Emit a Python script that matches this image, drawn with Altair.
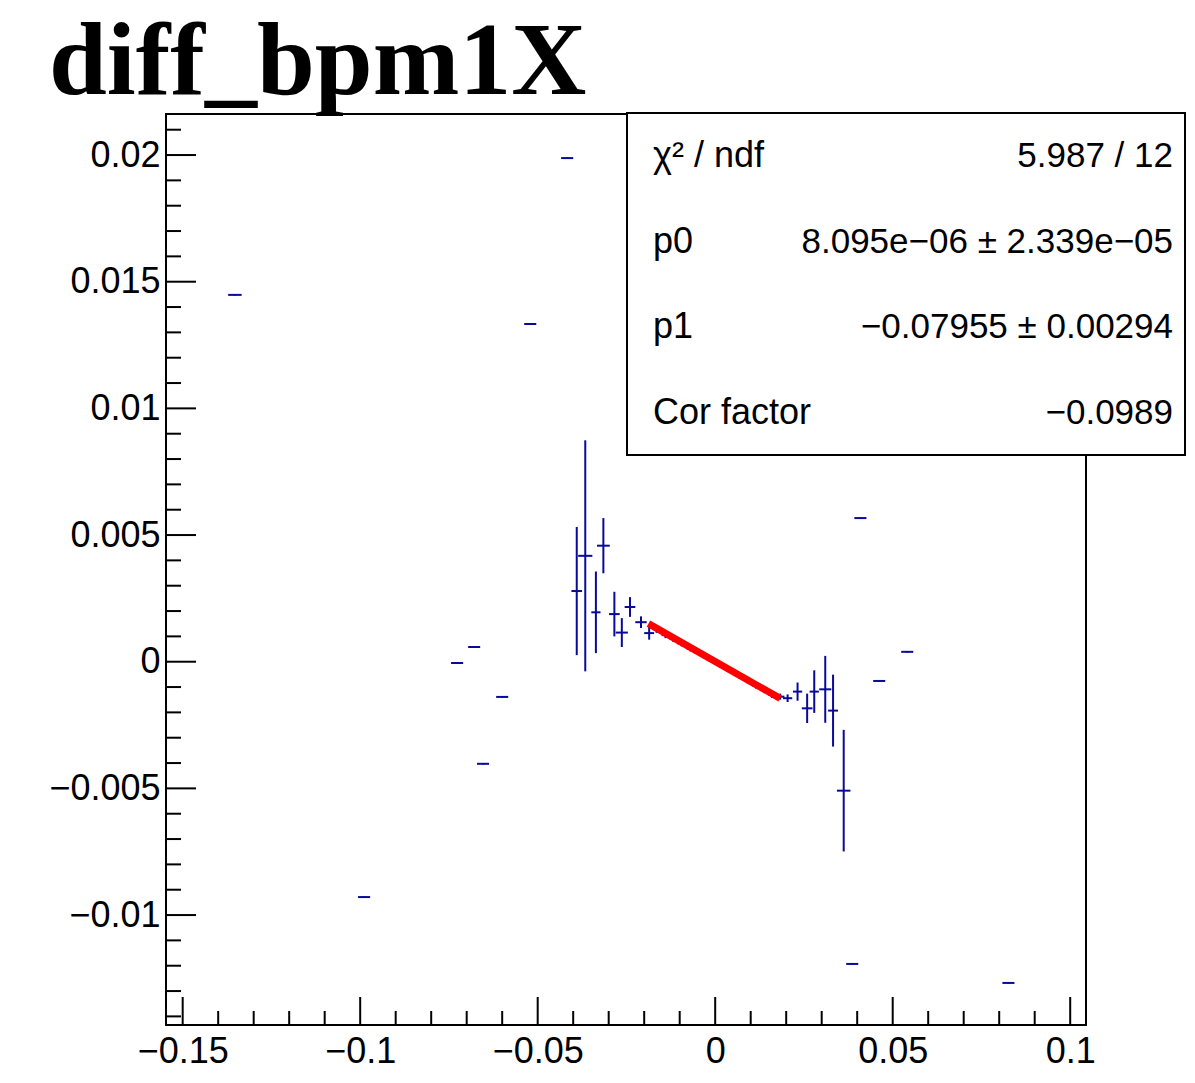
import altair as alt
import pandas as pd

# ---------------- data ----------------
pt_x = [-0.1353, -0.0417, -0.0521, -0.0727, -0.0679, -0.0600, -0.0654, -0.0989,
        0.0409, 0.0541, 0.0462, 0.0386, 0.0826,
        -0.0390, -0.0366, -0.0336, -0.0315, -0.0284, -0.0263, -0.0240, -0.0209, -0.0186,
        -0.0165, -0.0140, -0.0118, -0.0095, -0.0070, -0.0048, -0.0025, 0.0000,
        0.0022, 0.0045, 0.0068, 0.0092, 0.0115, 0.0138, 0.0160,
        0.0183, 0.0204, 0.0232, 0.0259, 0.0279, 0.0310, 0.0332, 0.0362]
pt_y = [0.01448, 0.01988, 0.01333, -0.00005, 0.00058, -0.00139, -0.00403, -0.00929,
        0.00567, 0.00039, -0.00076, -0.01193, -0.01268,
        0.00279, 0.00418, 0.00195, 0.00458, 0.00188, 0.00115, 0.00216, 0.00156, 0.00113,
        0.00128, 0.00105, 0.00090, 0.00072, 0.00052, 0.00037, 0.00018, 0.00000,
        -0.00019, -0.00037, -0.00056, -0.00076, -0.00094, -0.00112, -0.00130,
        -0.00138, -0.00144, -0.00118, -0.00184, -0.00118, -0.00109, -0.00193, -0.00509]
pt_xerr = [0.0019, 0.0017, 0.0017, 0.0017, 0.0017, 0.0017, 0.0017, 0.0017,
           0.0017, 0.0017, 0.0017, 0.0017, 0.0017,
           0.0015, 0.0020, 0.0013, 0.0018, 0.0015, 0.0017, 0.0015, 0.0016, 0.0014,
           0.0011, 0.0011, 0.0011, 0.0011, 0.0011, 0.0011, 0.0011, 0.0011,
           0.0011, 0.0011, 0.0011, 0.0011, 0.0011, 0.0011, 0.0011,
           0.0012, 0.0013, 0.0013, 0.0015, 0.0013, 0.0017, 0.0014, 0.0019]
pt_yerr = [0.00003, 0.00003, 0.00003, 0.00003, 0.00003, 0.00003, 0.00003, 0.00003,
           0.00003, 0.00003, 0.00003, 0.00003, 0.00003,
           0.00253, 0.00456, 0.00161, 0.00109, 0.00088, 0.00057, 0.00039, 0.00023, 0.00026,
           0.00014, 0.00012, 0.00012, 0.00011, 0.00011, 0.00010, 0.00010, 0.00010,
           0.00010, 0.00010, 0.00011, 0.00011, 0.00012, 0.00012, 0.00013,
           0.00012, 0.00015, 0.00036, 0.00058, 0.00084, 0.00132, 0.00142, 0.00240]

fit_x = [-0.0188, 0.0183]
fit_y = [0.001504, -0.001448]

x_major = [-0.15, -0.1, -0.05, 0.0, 0.05, 0.1]
x_minor = [-0.14, -0.13, -0.12, -0.11, -0.09, -0.08, -0.07, -0.06, -0.04, -0.03,
           -0.02, -0.01, 0.01, 0.02, 0.03, 0.04, 0.06, 0.07, 0.08, 0.09]
y_major = [-0.01, -0.005, 0.0, 0.005, 0.01, 0.015, 0.02]
y_minor = [-0.014, -0.013, -0.012, -0.011, -0.009, -0.008, -0.007, -0.006,
           -0.004, -0.003, -0.002, -0.001, 0.001, 0.002, 0.003, 0.004,
           0.006, 0.007, 0.008, 0.009, 0.011, 0.012, 0.013, 0.014,
           0.016, 0.017, 0.018, 0.019, 0.021]

title_text = "diff_bpm1X"
stat_names = ["χ² / ndf", "p0", "p1", "Cor factor"]
stat_values = ["5.987 / 12", "8.095e−06 ± 2.339e−05", "−0.07955 ± 0.00294", "−0.0989"]

# ---------------- layout ----------------
W, H = 920, 911
XDOM = [-0.1547, 0.10445]
YDOM = [-0.01434, 0.02162]
BLUE = "#0a0a9a"
FONT = "Liberation Sans"
ROW_Y = [42, 127.5, 213, 298.5]

df = pd.DataFrame({"x": pt_x, "y": pt_y, "xe": pt_xerr, "ye": pt_yerr})
df["xlo"] = df["x"] - df["xe"]
df["xhi"] = df["x"] + df["xe"]
df["ylo"] = df["y"] - df["ye"]
df["yhi"] = df["y"] + df["ye"]

xs = alt.Scale(domain=XDOM, nice=False, zero=False)
ys = alt.Scale(domain=YDOM, nice=False, zero=False)

lab = "replace(format(datum.value, '~g'), '-', '\u2212')"
xaxis = alt.Axis(values=x_major, ticks=False, domain=False, grid=False, labelFont=FONT,
                 labelFontSize=36, labelColor="black", labelPadding=9, labelExpr=lab,
                 title=None, labelFlush=False, labelOverlap=False)
yaxis = alt.Axis(values=y_major, ticks=False, domain=False, grid=False, labelFont=FONT,
                 labelFontSize=36, labelColor="black", labelPadding=6, labelExpr=lab,
                 title=None, labelOverlap=False)

one = pd.DataFrame({"a": [0]})

frame = alt.Chart(one).mark_rect(fill="white", stroke="black", strokeWidth=2).encode(
    x=alt.value(0), x2=alt.value(W), y=alt.value(0), y2=alt.value(H))

base = alt.Chart(df)
vbars = base.mark_rule(color=BLUE, strokeWidth=2).encode(
    x=alt.X("x:Q", scale=xs, axis=xaxis),
    y=alt.Y("ylo:Q", scale=ys, axis=yaxis),
    y2="yhi:Q",
)
hbars = base.mark_rule(color=BLUE, strokeWidth=2).encode(
    x=alt.X("xlo:Q", scale=xs), x2="xhi:Q", y=alt.Y("y:Q", scale=ys)
)

fit = alt.Chart(pd.DataFrame({"x": fit_x, "y": fit_y})).mark_line(
    color="#ff0000", strokeWidth=7).encode(
    x=alt.X("x:Q", scale=xs), y=alt.Y("y:Q", scale=ys))

# inward ticks like ROOT
xmaj = alt.Chart(pd.DataFrame({"v": x_major})).mark_rule(color="black", strokeWidth=2).encode(
    x=alt.X("v:Q", scale=xs), y=alt.value(H), y2=alt.value(H - 28))
xmin = alt.Chart(pd.DataFrame({"v": x_minor})).mark_rule(color="black", strokeWidth=2).encode(
    x=alt.X("v:Q", scale=xs), y=alt.value(H), y2=alt.value(H - 14))
ymaj = alt.Chart(pd.DataFrame({"v": y_major})).mark_rule(color="black", strokeWidth=2).encode(
    y=alt.Y("v:Q", scale=ys), x=alt.value(0), x2=alt.value(30))
ymin = alt.Chart(pd.DataFrame({"v": y_minor})).mark_rule(color="black", strokeWidth=2).encode(
    y=alt.Y("v:Q", scale=ys), x=alt.value(0), x2=alt.value(15))

# stats box
box = alt.Chart(one).mark_rect(fill="white", stroke="black", strokeWidth=2).encode(
    x=alt.value(461), x2=alt.value(1019), y=alt.value(-1), y2=alt.value(341))

stat_layers = []
for i in range(len(stat_names)):
    rdf = pd.DataFrame({"name": [stat_names[i]], "val": [stat_values[i]]})
    stat_layers.append(
        alt.Chart(rdf).mark_text(align="left", baseline="middle", font=FONT, fontSize=36,
                                 color="black").encode(
            text="name:N", x=alt.value(487), y=alt.value(ROW_Y[i])))
    stat_layers.append(
        alt.Chart(rdf).mark_text(align="right", baseline="middle", font=FONT, fontSize=35,
                                 color="black").encode(
            text="val:N", x=alt.value(1007), y=alt.value(ROW_Y[i])))

title = alt.Chart(pd.DataFrame({"t": [title_text]})).mark_text(
    align="left", baseline="alphabetic", font="Liberation Serif", fontWeight="bold",
    fontSize=104, color="black").encode(text="t:N", x=alt.value(-117), y=alt.value(-20))

chart = alt.layer(frame, vbars, hbars, fit, xmaj, xmin, ymaj, ymin, box, *stat_layers, title).properties(
    width=W, height=H,
    padding={"left": 158, "top": 106, "right": 101, "bottom": 47},
    autosize=alt.AutoSizeParams(type="none"),
).configure_view(strokeWidth=0).configure(background="white")

chart.save("out.html", embed_options={"renderer": "svg", "actions": False})
